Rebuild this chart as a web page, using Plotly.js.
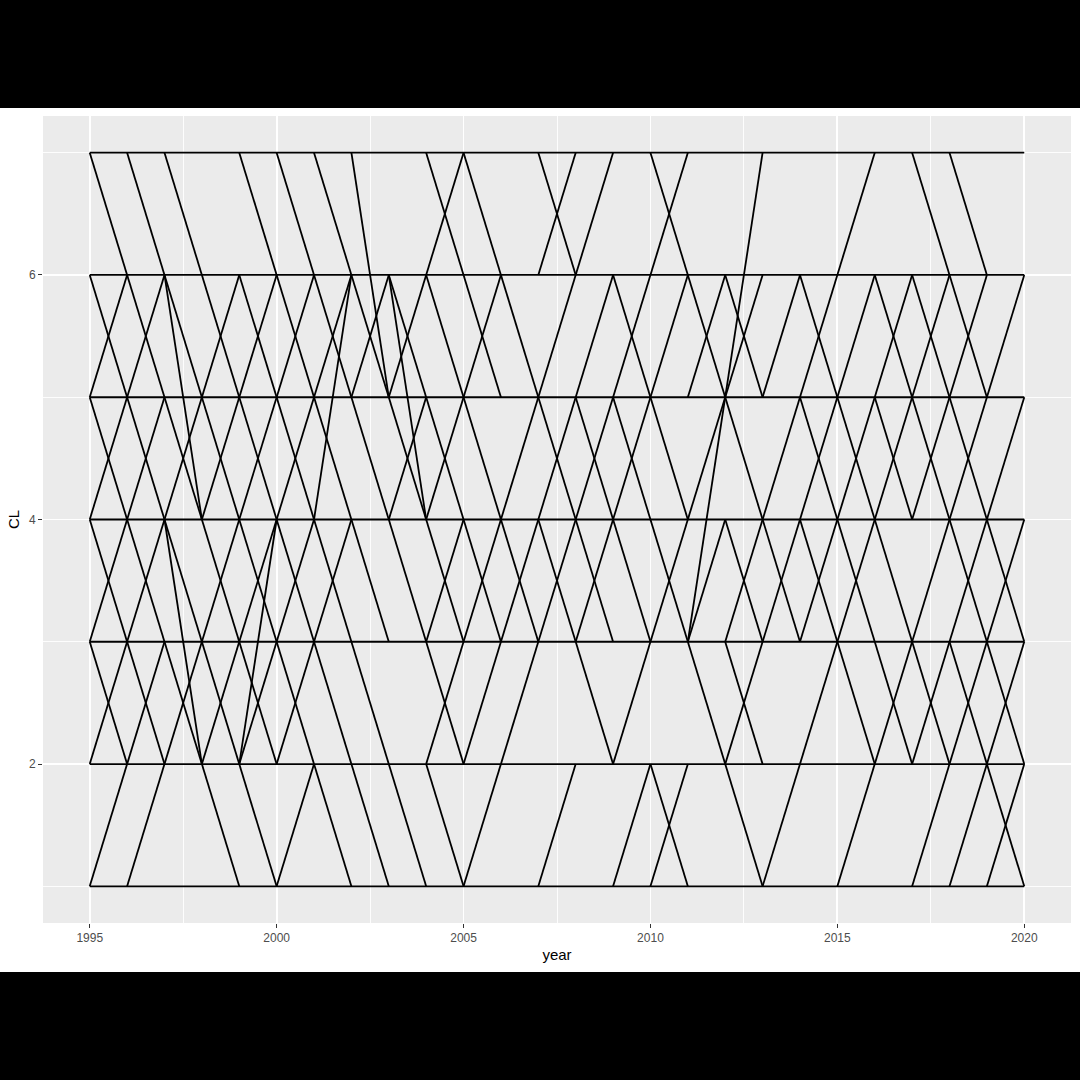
<!DOCTYPE html>
<html>
<head>
<meta charset="utf-8">
<script src="https://cdn.plot.ly/plotly-3.0.1.min.js"></script>
<style>
  html, body { margin: 0; padding: 0; background: #000000; width: 1080px; height: 1080px; overflow: hidden; }
  #chart { position: absolute; left: 0; top: 108px; width: 1080px; height: 864px; background: #ffffff; }
</style>
</head>
<body>
<div id="chart"></div>
<script>
// ---- data ----
// Year-to-next-year CL moves ("from-to"), one list per start year
const startYears = [1995,1996,1997,1998,1999,2000,2001,2002,2003,2004,2005,2006,2007,
                    2008,2009,2010,2011,2012,2013,2014,2015,2016,2017,2018,2019];
const transitions = [
  ["7-6","6-5","5-6","5-4","4-5","4-3","3-4","3-2","2-3","1-2"],          // 1995
  ["7-6","6-5","5-6","5-4","4-5","4-3","3-4","3-2","2-3","1-2"],          // 1996
  ["7-6","6-5","6-4","5-4","4-5","4-3","4-2","3-2","2-3"],                // 1997
  ["6-5","5-6","5-4","4-5","4-3","3-4","3-2","2-3","2-1"],                // 1998
  ["7-6","6-5","5-6","5-4","4-5","4-3","3-4","3-2","2-3","2-4","2-1"],    // 1999
  ["7-6","6-5","5-6","5-4","4-5","4-3","3-4","3-2","2-3","1-2"],          // 2000
  ["7-6","6-5","5-6","5-4","4-6","4-3","3-4","3-2","2-1"],                // 2001
  ["7-5","6-5","5-6","5-4","4-3","3-2","2-1"],                            // 2002
  ["6-5","6-4","5-6","5-4","4-5","4-3","2-1"],                            // 2003
  ["7-6","6-7","6-5","5-4","4-5","4-3","3-4","3-2","2-3","2-1"],          // 2004
  ["7-6","6-5","5-6","5-4","4-3","3-4","2-3","1-2"],                      // 2005
  ["6-5","4-5","4-3","3-4","2-3"],                                        // 2006
  ["7-6","6-7","5-6","5-4","4-5","4-3","3-4","1-2"],                      // 2007
  ["6-7","5-6","5-4","4-5","4-3","3-4","3-2"],                            // 2008
  ["6-5","5-6","5-4","4-5","4-3","2-3","1-2"],                            // 2009
  ["7-6","6-7","5-6","5-4","4-3","3-4","2-1","1-2"],                      // 2010
  ["6-5","5-6","4-5","3-5","3-4","3-2"],                                  // 2011
  ["5-7","6-5","5-6","5-4","4-3","3-4","3-2","2-3","2-1"],                // 2012
  ["5-6","4-5","4-3","3-4","1-2"],                                        // 2013
  ["6-5","5-6","5-4","4-5","4-3","3-4","2-3"],                            // 2014
  ["6-7","5-6","5-4","4-5","4-3","3-4","3-2","1-2"],                      // 2015
  ["6-5","5-6","5-4","4-5","4-3","3-2","2-3"],                            // 2016
  ["7-6","6-5","5-6","5-4","4-5","3-4","3-2","2-3","1-2"],                // 2017
  ["7-6","6-5","5-6","5-4","4-5","4-3","3-4","3-2","2-3","1-2"],          // 2018
  ["5-6","4-5","4-3","3-4","3-2","2-3","2-1","1-2"]                       // 2019
];
// CL levels held constant over the whole span
const steadyLevels = [1,2,3,4,5,6,7];
const firstYear = 1995;
const lastYear = 2020;

// axis ticks
const xTickVals = [1995,2000,2005,2010,2015,2020];
const xMinorVals = [1997.5,2002.5,2007.5,2012.5,2017.5];
const yTickVals = [2,4,6];
const yMinorVals = [1,3,5,7];

// ---- build traces ----
const moveX = [], moveY = [];
startYears.forEach((yr, i) => {
  transitions[i].forEach(t => {
    const p = t.split("-").map(Number);
    moveX.push(yr, yr + 1, null);
    moveY.push(p[0], p[1], null);
  });
});
const flatX = [], flatY = [];
steadyLevels.forEach(l => {
  flatX.push(firstYear, lastYear, null);
  flatY.push(l, l, null);
});

const lineStyle = {color: "#000000", width: 1.8};
const traces = [
  {type: "scatter", mode: "lines", x: flatX, y: flatY, line: lineStyle,
   hoverinfo: "skip", showlegend: false, connectgaps: false},
  {type: "scatter", mode: "lines", x: moveX, y: moveY, line: lineStyle,
   hoverinfo: "skip", showlegend: false, connectgaps: false}
];

const tickFont = {family: "Liberation Sans, Arial, sans-serif", size: 12, color: "#4D4D4D"};
const titleFont = {family: "Liberation Sans, Arial, sans-serif", size: 15, color: "#000000"};

const layout = {
  width: 1080, height: 864,
  margin: {l: 43, r: 9, t: 8, b: 49, pad: 0},
  paper_bgcolor: "#FFFFFF",
  plot_bgcolor: "#EBEBEB",
  showlegend: false,
  xaxis: {
    range: [1993.75, 2021.25], tickvals: xTickVals, ticktext: xTickVals.map(String),
    ticks: "outside", ticklen: 4, tickwidth: 1, tickcolor: "#333333",
    tickfont: tickFont, showgrid: true, gridcolor: "#FFFFFF", gridwidth: 1.8,
    zeroline: false, showline: false, automargin: false,
    minor: {tickvals: xMinorVals, showgrid: true, gridcolor: "#FFFFFF", gridwidth: 0.9, ticks: ""},
    title: {text: "year", font: titleFont, standoff: 5}
  },
  yaxis: {
    range: [0.7, 7.3], tickvals: yTickVals, ticktext: yTickVals.map(String),
    ticks: "outside", ticklen: 4, tickwidth: 1, tickcolor: "#333333",
    tickfont: tickFont, showgrid: true, gridcolor: "#FFFFFF", gridwidth: 1.8,
    zeroline: false, showline: false, automargin: false,
    minor: {tickvals: yMinorVals, showgrid: true, gridcolor: "#FFFFFF", gridwidth: 0.9, ticks: ""},
    title: {text: "CL", font: titleFont, standoff: 5}
  }
};

Plotly.newPlot("chart", traces, layout, {staticPlot: true, displayModeBar: false});
</script>
</body>
</html>
